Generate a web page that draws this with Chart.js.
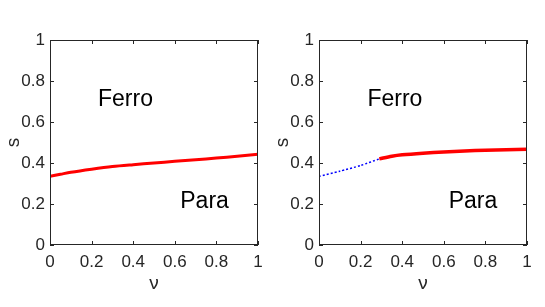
<!DOCTYPE html>
<html>
<head>
<meta charset="utf-8">
<script src="https://cdn.jsdelivr.net/npm/chart.js@4"></script>
<style>
  html, body { margin: 0; padding: 0; background: #fff; }
  .panel { position: absolute; top: 0; width: 272px; height: 307px; }
  #left { left: 0; }
  #right { left: 269px; }
</style>
</head>
<body>
<div class="panel" id="left"><canvas id="c1"></canvas></div>
<div class="panel" id="right"><canvas id="c2"></canvas></div>
<script>
// ---- data ----
const tickValues = [0, 0.2, 0.4, 0.6, 0.8, 1];

const nuLeft = [0, 0.05, 0.1, 0.2, 0.3, 0.4, 0.5, 0.6, 0.7, 0.8, 0.9, 1.0];
const sLeft = [0.335, 0.345, 0.355, 0.37, 0.383, 0.392, 0.4, 0.408, 0.416, 0.424, 0.433, 0.443];

const nuBlue = [0, 0.1, 0.2, 0.29];
const sBlue = [0.335, 0.36, 0.388, 0.42];
const nuRed = [0.29, 0.35, 0.4, 0.5, 0.6, 0.7, 0.8, 0.9, 1.0];
const sRed = [0.42, 0.433, 0.44, 0.448, 0.454, 0.459, 0.462, 0.465, 0.467];

const regionNames = ["Ferro", "Para"];
const regionNuLeft = [0.363, 0.743];
const regionNuRight = [0.365, 0.74];
const regionS = [0.71, 0.21];

const FONT = "'Liberation Sans', Arial, sans-serif";

function pts(xs, ys) {
  return xs.map((x, i) => ({ x, y: ys[i] }));
}

// box + inward ticks + region labels, MATLAB style
const boxPlugin = {
  id: "box",
  afterDraw(chart, args, opts) {
    const { ctx, chartArea: a, scales } = chart;
    ctx.save();
    ctx.strokeStyle = "#262626";
    ctx.lineWidth = 1;
    ctx.strokeRect(a.left + 0.5, a.top + 0.5, a.right - a.left - 1, a.bottom - a.top - 1);
    ctx.beginPath();
    tickValues.forEach((v) => {
      const px = Math.round(scales.x.getPixelForValue(v)) + 0.5;
      ctx.moveTo(px, a.bottom); ctx.lineTo(px, a.bottom - 4);
      ctx.moveTo(px, a.top); ctx.lineTo(px, a.top + 4);
      const py = Math.round(scales.y.getPixelForValue(v)) + 0.5;
      ctx.moveTo(a.left, py); ctx.lineTo(a.left + 4, py);
      ctx.moveTo(a.right, py); ctx.lineTo(a.right - 4, py);
    });
    ctx.stroke();
    ctx.fillStyle = "#000";
    ctx.font = "23px " + FONT;
    ctx.textAlign = "center";
    ctx.textBaseline = "middle";
    opts.names.forEach((name, i) => {
      ctx.fillText(name, scales.x.getPixelForValue(opts.nu[i]), scales.y.getPixelForValue(regionS[i]));
    });
    ctx.restore();
  },
};

function fmt(v) {
  return String(Number(v.toFixed(1)));
}

function makeOptions(nuPos) {
  return {
    responsive: true,
    maintainAspectRatio: false,
    animation: false,
    events: [],
    layout: { padding: { top: 40, right: 14, left: 0, bottom: 0 } },
    plugins: {
      legend: { display: false },
      tooltip: { enabled: false },
      box: { names: regionNames, nu: nuPos },
    },
    scales: {
      x: {
        type: "linear",
        min: 0,
        max: 1,
        afterFit: (s) => { s.height = 62; },
        afterBuildTicks: (s) => { s.ticks = tickValues.map((v) => ({ value: v })); },
        grid: { display: false, drawTicks: false },
        border: { display: false },
        ticks: { color: "#262626", font: { family: FONT, size: 17 }, padding: 7, autoSkip: false, maxRotation: 0, callback: fmt },
        title: { display: true, text: "ν", color: "#262626", font: { family: FONT, size: 19 }, padding: { top: 0, bottom: 12 } },
      },
      y: {
        type: "linear",
        min: 0,
        max: 1,
        afterFit: (s) => { s.width = 50; },
        afterBuildTicks: (s) => { s.ticks = tickValues.map((v) => ({ value: v })); },
        grid: { display: false, drawTicks: false },
        border: { display: false },
        ticks: { color: "#262626", font: { family: FONT, size: 17 }, padding: 5, autoSkip: false, callback: fmt },
        title: { display: true, text: "s", color: "#262626", font: { family: FONT, size: 19 }, padding: { top: 2, bottom: 0 } },
      },
    },
  };
}

new Chart(document.getElementById("c1"), {
  type: "scatter",
  data: {
    datasets: [
      { data: pts(nuLeft, sLeft), showLine: true, borderColor: "#ff0000", borderWidth: 3, pointRadius: 0, tension: 0.3 },
    ],
  },
  options: makeOptions(regionNuLeft),
  plugins: [boxPlugin],
});

new Chart(document.getElementById("c2"), {
  type: "scatter",
  data: {
    datasets: [
      { data: pts(nuBlue, sBlue), showLine: true, borderColor: "#0000ff", borderWidth: 1.5, borderDash: [2, 2], pointRadius: 0, tension: 0.2 },
      { data: pts(nuRed, sRed), showLine: true, borderColor: "#ff0000", borderWidth: 3.5, pointRadius: 0, tension: 0.3 },
    ],
  },
  options: makeOptions(regionNuRight),
  plugins: [boxPlugin],
});
</script>
</body>
</html>
